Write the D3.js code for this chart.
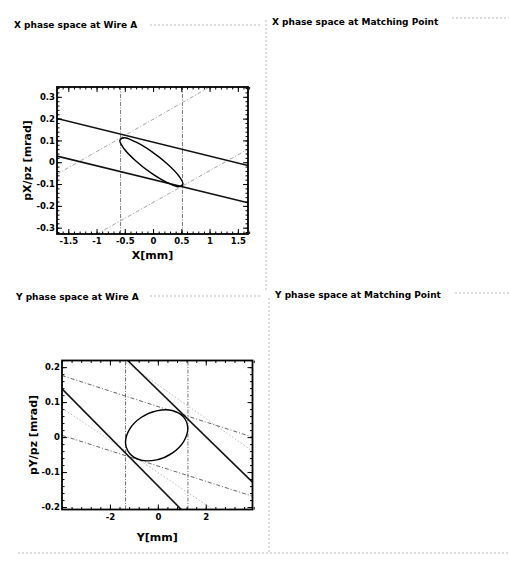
<!DOCTYPE html>
<html>
<head>
<meta charset="utf-8">
<script src="https://cdn.jsdelivr.net/npm/d3@7"></script>
<style>
  body { margin: 0; background: #fff; }
  svg { display: block; font-family: 'DejaVu Sans', sans-serif; }
  .title { font-size: 9px; font-weight: bold; }
  .tick text { font-size: 8.5px; font-weight: bold; font-family: 'DejaVu Sans', sans-serif; fill: #000; }
  .axis-title { font-size: 11px; font-weight: bold; }
  .tick line { stroke: #000; stroke-width: 1; }
</style>
</head>
<body>
<div id="chart"></div>
<script>
const W = 509, H = 563;

const panelTitles = ['X phase space at Wire A', 'X phase space at Matching Point',
  'Y phase space at Wire A', 'Y phase space at Matching Point'];

// X plane at wire A
const xTicks = [-1.5, -1, -0.5, 0, 0.5, 1, 1.5];
const xpTicks = [-0.3, -0.2, -0.1, 0, 0.1, 0.2, 0.3];
const xWire = [-0.575, 0.52];
const xThick = [
  [[-1.70, 0.201], [1.68, -0.015]],
  [[-1.70, 0.028], [1.68, -0.186]]
];
const xDash = [
  [[-1.0, -0.33], [1.68, 0.06]],
  [[-1.70, -0.055], [1.0, 0.345]]
];
const xEllipse = [
  [0.528, -0.100], [0.453, -0.062], [0.249, -0.007], [-0.03, 0.050],
  [-0.309, 0.093], [-0.513, 0.112], [-0.588, 0.100], [-0.513, 0.062],
  [-0.309, 0.007], [-0.03, -0.050], [0.249, -0.093], [0.453, -0.112]
];

// Y plane at wire A
const yTicks = [-2, 0, 2];
const ypTicks = [-0.2, -0.1, 0, 0.1, 0.2];
const yWire = [-1.35, 1.255];
const yThick = [
  [[-4.0, 0.138], [0.98, -0.207]],
  [[-1.26, 0.219], [3.95, -0.129]]
];
const yDash = [
  [[-4.0, 0.176], [3.95, 0.0]],
  [[-4.0, 0.005], [3.95, -0.169]]
];
const yFaint = [
  [[-4.0, 0.083], [2.3, -0.207]],
  [[-1.45, 0.219], [3.95, -0.04]]
];
const yEllipse = [
  [1.25, 0.025], [1.076, 0.057], [0.60, 0.076], [-0.05, 0.075],
  [-0.70, 0.056], [-1.176, 0.023], [-1.35, -0.015], [-1.176, -0.047],
  [-0.70, -0.066], [-0.05, -0.065], [0.60, -0.046], [1.076, -0.013]
];

const svg = d3.select('#chart')
  .append('svg')
  .attr('width', W)
  .attr('height', H);

// group box decoration (dotted frame lines like the scanned form)
const deco = svg.append('g')
  .attr('stroke', '#aaa')
  .attr('stroke-width', 0.8)
  .attr('stroke-dasharray', '2,2')
  .attr('fill', 'none');
deco.append('line').attr('x1', 150).attr('x2', 262).attr('y1', 25).attr('y2', 25);
deco.append('line').attr('x1', 452).attr('x2', 509).attr('y1', 18).attr('y2', 18);
deco.append('line').attr('x1', 150).attr('x2', 262).attr('y1', 296).attr('y2', 296);
deco.append('line').attr('x1', 455).attr('x2', 509).attr('y1', 293).attr('y2', 293);
deco.append('line').attr('x1', 18).attr('x2', 509).attr('y1', 553).attr('y2', 553);
deco.append('line').attr('x1', 266).attr('x2', 266).attr('y1', 20).attr('y2', 290);
deco.append('line').attr('x1', 269).attr('x2', 269).attr('y1', 298).attr('y2', 553);

const titlePos = [[14, 27.5], [272, 25], [16, 299.5], [275, 298]];
svg.selectAll('.title')
  .data(panelTitles)
  .enter()
  .append('text')
  .attr('class', 'title')
  .attr('x', (d, i) => titlePos[i][0])
  .attr('y', (d, i) => titlePos[i][1])
  .text(d => d);

function drawPlot(o) {
  const x = d3.scaleLinear().domain(o.xDomain).range([o.box.left, o.box.right]);
  const y = d3.scaleLinear().domain(o.yDomain).range([o.box.bottom, o.box.top]);
  const g = svg.append('g');

  g.append('clipPath').attr('id', o.id)
    .append('rect')
    .attr('x', o.box.left).attr('y', o.box.top)
    .attr('width', o.box.right - o.box.left)
    .attr('height', o.box.bottom - o.box.top);

  const plot = g.append('g').attr('clip-path', `url(#${o.id})`);
  const line = d3.line().x(d => x(d[0])).y(d => y(d[1]));

  // wire A position lines
  plot.selectAll('.wire')
    .data(o.wire)
    .enter()
    .append('line')
    .attr('x1', d => x(d)).attr('x2', d => x(d))
    .attr('y1', y.range()[0]).attr('y2', y.range()[1])
    .attr('stroke', '#666')
    .attr('stroke-width', 0.9)
    .attr('stroke-dasharray', '4,1.5,1,1.5');

  (o.faint || []).forEach(l => {
    plot.append('path').attr('d', line(l))
      .attr('fill', 'none').attr('stroke', '#aaa')
      .attr('stroke-width', 0.8).attr('stroke-dasharray', '1.5,2');
  });

  o.dash.forEach(l => {
    plot.append('path').attr('d', line(l))
      .attr('fill', 'none').attr('stroke', o.dashColor)
      .attr('stroke-width', 0.9).attr('stroke-dasharray', '4,2,1,2');
  });

  o.thick.forEach(l => {
    plot.append('path').attr('d', line(l))
      .attr('fill', 'none').attr('stroke', '#111')
      .attr('stroke-width', 1.6);
  });

  plot.append('path')
    .datum(o.ellipse)
    .attr('d', d3.line().x(d => x(d[0])).y(d => y(d[1])).curve(d3.curveCatmullRomClosed))
    .attr('fill', 'none')
    .attr('stroke', '#000')
    .attr('stroke-width', 1.4);

  // axes with inward ticks on all sides
  const fmt = d => String(d);
  const xMinor = d3.range(o.xMinor[0], o.xMinor[1] + 1e-9, o.xMinor[2]);
  const yMinor = d3.range(o.yMinor[0], o.yMinor[1] + 1e-9, o.yMinor[2]);
  const bottom = y.range()[0], top = y.range()[1];
  const left = x.range()[0], right = x.range()[1];

  const axes = [
    [d3.axisBottom(x).tickValues(xMinor).tickSize(-2.5).tickFormat(''), `translate(0,${bottom})`],
    [d3.axisBottom(x).tickValues(o.xTicks).tickSize(-5).tickPadding(4).tickFormat(fmt), `translate(0,${bottom})`],
    [d3.axisTop(x).tickValues(xMinor).tickSize(-2.5).tickFormat(''), `translate(0,${top})`],
    [d3.axisTop(x).tickValues(o.xTicks).tickSize(-5).tickFormat(''), `translate(0,${top})`],
    [d3.axisLeft(y).tickValues(yMinor).tickSize(-2.5).tickFormat(''), `translate(${left},0)`],
    [d3.axisLeft(y).tickValues(o.yTicks).tickSize(-5).tickPadding(2).tickFormat(fmt), `translate(${left},0)`],
    [d3.axisRight(y).tickValues(yMinor).tickSize(-2.5).tickFormat(''), `translate(${right},0)`],
    [d3.axisRight(y).tickValues(o.yTicks).tickSize(-5).tickFormat(''), `translate(${right},0)`]
  ];
  axes.forEach(a => {
    g.append('g').attr('transform', a[1]).call(a[0])
      .call(s => s.select('.domain').remove());
  });

  g.append('rect')
    .attr('x', left).attr('y', top)
    .attr('width', right - left).attr('height', bottom - top)
    .attr('fill', 'none')
    .attr('stroke', '#000')
    .attr('stroke-width', 1.8);

  g.append('text')
    .attr('class', 'axis-title')
    .attr('x', (left + right) / 2)
    .attr('y', bottom + o.xLabelDy)
    .attr('text-anchor', 'middle')
    .text(o.xLabel);

  g.append('text')
    .attr('class', 'axis-title')
    .attr('transform', `translate(${o.yLabelX},${(top + bottom) / 2}) rotate(-90)`)
    .attr('text-anchor', 'middle')
    .text(o.yLabel);
}

drawPlot({
  id: 'clipX',
  box: { left: 57, right: 248, top: 87, bottom: 234 },
  xDomain: [-1.70, 1.68],
  yDomain: [-0.329, 0.345],
  xTicks: xTicks, yTicks: xpTicks,
  xMinor: [-1.7, 1.7, 0.1], yMinor: [-0.32, 0.34, 0.02],
  wire: xWire, thick: xThick, dash: xDash, dashColor: '#999',
  ellipse: xEllipse,
  xLabel: 'X[mm]', yLabel: 'pX/pz [mrad]', yLabelX: 31, xLabelDy: 25
});

drawPlot({
  id: 'clipY',
  box: { left: 62, right: 252.5, top: 360.5, bottom: 509.5 },
  xDomain: [-4.0, 3.95],
  yDomain: [-0.207, 0.219],
  xTicks: yTicks, yTicks: ypTicks,
  xMinor: [-4.0, 4.0, 0.4], yMinor: [-0.2, 0.22, 0.02],
  wire: yWire, thick: yThick, dash: yDash, dashColor: '#555', faint: yFaint,
  ellipse: yEllipse,
  xLabel: 'Y[mm]', yLabel: 'pY/pz [mrad]', yLabelX: 37, xLabelDy: 31
});
</script>
</body>
</html>
